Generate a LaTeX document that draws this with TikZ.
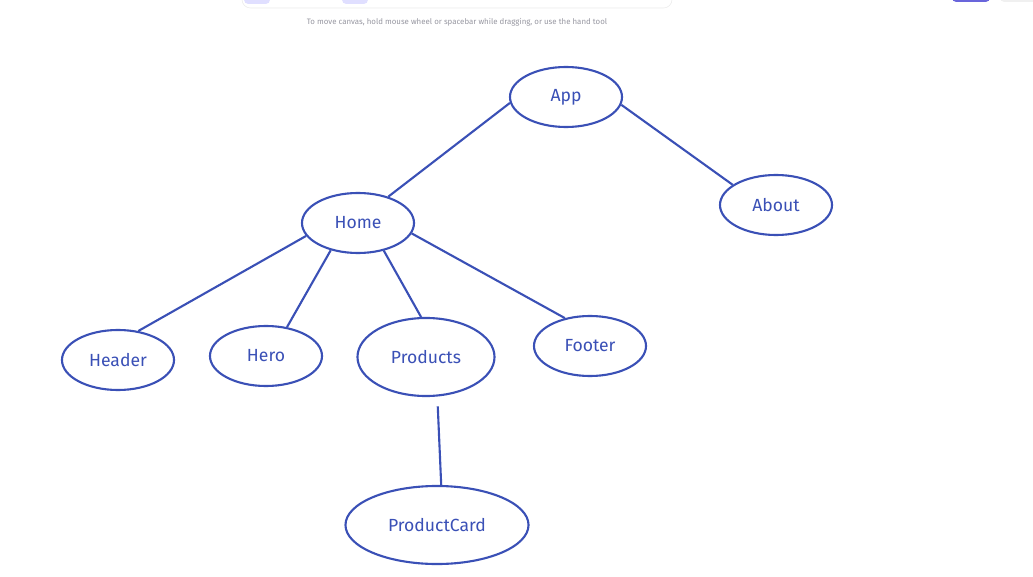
\documentclass[tikz,border=0pt]{standalone}
\usepackage{fontspec}
\setmainfont{Fira Sans}
\usetikzlibrary{shapes.geometric}
\definecolor{inkblue}{RGB}{58,80,182}
\definecolor{hintgrey}{RGB}{150,150,160}
\definecolor{lilac}{RGB}{224,223,255}
\definecolor{violet}{RGB}{105,101,219}
\tikzset{
comp/.style={
  draw=inkblue,
  ellipse,
  line width=1.5pt,
  minimum height=1.5cm,
  minimum width=2.8cm,
  text=inkblue,
  font=\fontsize{12.5}{14}\selectfont
  },
big/.style={
  minimum height=1.95cm
  },
line/.style={draw=inkblue, line width=1.5pt}
}
\begin{document}
\begin{tikzpicture}[x=0.025cm, y=-0.025cm]
\useasboundingbox (0,0) rectangle (1033,577);
\begin{scope}
\clip (0,0) rectangle (1033,577);
% toolbar remains at the top
\draw[black!8, fill=white, rounded corners=6] (242,-30) rectangle (672,8);
\fill[lilac, rounded corners=3] (244,-10) rectangle (270,4);
\fill[lilac, rounded corners=3] (342,-10) rectangle (368,4);
\fill[violet, rounded corners=3] (952,-10) rectangle (990,2);
\fill[black!6, rounded corners=3] (1000,-10) rectangle (1040,2);
\end{scope}
\node[text=hintgrey, font=\fontsize{5.6}{7}\selectfont] (hint) at (457,22) {To move canvas, hold mouse wheel or spacebar while dragging, or use the hand tool};

\node[comp]	(app)		at (566,97)		{App};
\node[comp]	(about)		at (776,205)	{About};
\node[comp]	(home)		at (358,223)	{Home};
\node[comp]	(header)	at (118,360)	{Header};
\node[comp]	(hero)		at (266,356)	{Hero};
\node[comp, big, minimum width=3.425cm]	(products)	at (426,357)	{Products};
\node[comp]	(footer)	at (590,346)	{Footer};
\node[comp, big, minimum width=4.575cm]	(card)		at (437,525)	{ProductCard};

\draw[line]	(app.186)		--	(home.41);
\draw[line]	(app.352)		--	(about.155);
\draw[line]	(home.194)		--	(header.55);
\draw[line]	(home.225)		--	(hero.54);
\draw[line]	(home.313)		--	(products.97);
\draw[line]	(home.349)		--	(footer.132);
\draw[line, shorten <=7]	(products.286)	--	(card.84);
\end{tikzpicture}
\end{document}
